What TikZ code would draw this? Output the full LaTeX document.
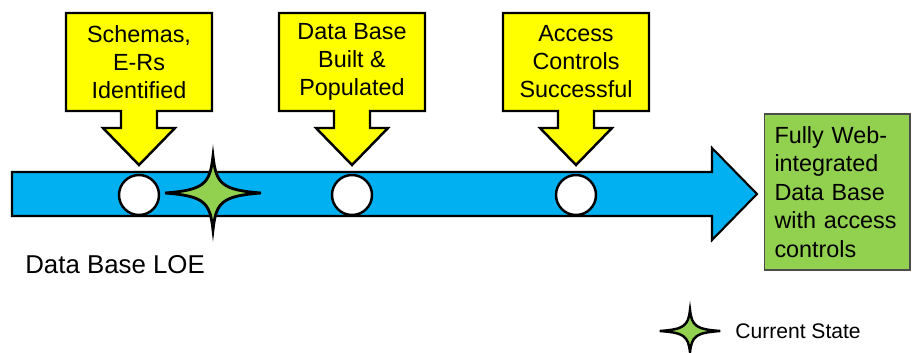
\documentclass[tikz,border=0pt]{standalone}
\usepackage{fontspec}
\setmainfont{Liberation Sans}
\usepackage{tikz}
\usetikzlibrary{positioning}
\definecolor{lineblue}{HTML}{00B0F0}
\definecolor{signyellow}{HTML}{FFFF00}
\definecolor{stategreen}{HTML}{92D050}
\tikzset{
    callout/.pic = {
    \draw[fill=signyellow, line width=1.4pt]
      (-73,-49) -- (73,-49) -- (73,49) -- (18,49) -- (18,66) -- (36,66)
      -- (0,103) -- (-36,66) -- (-18,66) -- (-18,49) -- (-73,49) -- cycle;
    },
    spark/.pic = {
    \draw[fill=stategreen, line width=#1]
      (48,0) .. controls (9,-3) and (3,-9) .. (0,-37)
      .. controls (-3,-9) and (-9,-3) .. (-48,0)
      .. controls (-9,3) and (-3,9) .. (0,37)
      .. controls (3,9) and (9,3) .. (48,0) -- cycle;
    },
    mstone/.style={circle, draw, fill=white, line width=1.4pt, minimum size=0.8cm, inner sep=0pt},
    cnote/.style={align=center, inner sep=0pt, font=\fontsize{13.3}{15.9}\selectfont},
    goalbox/.style={rectangle, draw=black!70, line width=0.6pt, fill=stategreen,
      minimum width=2.92cm, minimum height=3.12cm, text width=2.5cm, align=left,
      inner xsep=0.2cm, font=\fontsize{13.3}{16.2}\selectfont},
}
\begin{document}
\begin{tikzpicture}[x=0.02cm, y=-0.02cm]
    \useasboundingbox (0,0) rectangle (912,352);

    % line of effort
    \draw[fill=lineblue, line width=1.2pt]
      (12,172) -- (712,172) -- (712,148) -- (757,194) -- (712,240) -- (712,216) -- (12,216) -- cycle;

    \node[mstone] (m1) at (139,195) {};
    \node[mstone] (m2) at (352,195) {};
    \node[mstone] (m3) at (576,195) {};

    \pic at (213,193) {spark=1.6pt};

    % milestones
    \pic at (m1 |- 0,62) {callout};
    \pic at (m2 |- 0,62) {callout};
    \pic at (m3 |- 0,62) {callout};
    \node[cnote] (c1) at (m1 |- 0,62) {Schemas,\\E-Rs\\Identified};
    \node[cnote] (c2) at (m2 |- 0,62) {Data Base\\Built \&\\Populated};
    \node[cnote] (c3) at (m3 |- 0,62) {Access\\Controls\\Successful};

    \node[anchor=west, inner sep=0pt, font=\fontsize{14.7}{17}\selectfont] (loe) at (25,265) {Data Base LOE};

    \node[goalbox] (goal) at (837,192) {Fully Web-\\integrated\\Data Base\\with access\\controls};

    % legend
    \coordinate (legstar) at (690,331);
    \pic[xscale=0.63, yscale=0.57] at (legstar) {spark=1.4pt};
    \node[right=0.9cm of legstar, inner sep=0pt, font=\fontsize{12}{14}\selectfont] (legtext) {Current State};
\end{tikzpicture}
\end{document}
